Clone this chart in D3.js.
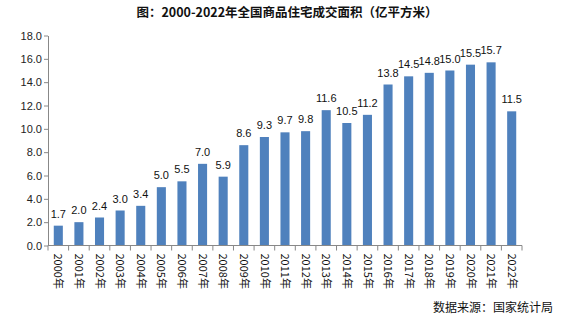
<!DOCTYPE html>
<html><head><meta charset="utf-8">
<script src="https://cdn.jsdelivr.net/npm/d3@7"></script>
<style>body{margin:0;background:#fff}svg{display:block}</style>
</head><body><svg id="c" width="571" height="321"></svg>
<script>
const years = ["2000年","2001年","2002年","2003年","2004年","2005年","2006年","2007年","2008年","2009年","2010年","2011年","2012年","2013年","2014年","2015年","2016年","2017年","2018年","2019年","2020年","2021年","2022年"];
const values = [1.7,2.0,2.4,3.0,3.4,5.0,5.5,7.0,5.9,8.6,9.3,9.7,9.8,11.6,10.5,11.2,13.8,14.5,14.8,15.0,15.5,15.7,11.5];
const yTicks = [0,2,4,6,8,10,12,14,16,18];
const title = "图：2000-2022年全国商品住宅成交面积（亿平方米）";
const source = "数据来源：国家统计局";

const svg = d3.select("#c");
const font = "'Noto Sans CJK SC', 'Liberation Sans', sans-serif";
const x = d3.scaleBand().domain(years).range([48, 522]).paddingInner(0.56).paddingOuter(0.28);
const xb = d3.scaleBand().domain(years).range([48, 522]);
const y = d3.scaleLinear().domain([0, 18]).range([245.5, 35.5]);

svg.append("text").attr("x", 287).attr("y", 17).attr("text-anchor", "middle")
  .attr("font-family", font).attr("font-weight", "bold").attr("font-size", 12.5).attr("fill", "#111").text(title);

const ya = svg.append("g").attr("transform", "translate(48,0)")
  .call(d3.axisLeft(y).tickValues(yTicks).tickFormat(d3.format(".1f")).tickSize(4).tickSizeOuter(0));
ya.select(".domain").attr("stroke", "#888");
ya.selectAll(".tick line").attr("stroke", "#888");
ya.selectAll("text").attr("font-family", "'Liberation Sans', sans-serif").attr("font-size", 11).attr("fill", "#222").attr("x", -6);

svg.append("g").selectAll("rect").data(values).join("rect")
  .attr("x", (d, i) => x(years[i])).attr("width", x.bandwidth())
  .attr("y", d => y(d)).attr("height", d => y(0) - y(d)).attr("fill", "#4F81BD");

svg.append("g").selectAll("text").data(values).join("text")
  .attr("x", (d, i) => x(years[i]) + x.bandwidth() / 2).attr("y", d => y(d) - 8)
  .attr("text-anchor", "middle").attr("font-family", "'Liberation Sans', sans-serif").attr("font-size", 11).attr("fill", "#111")
  .text(d => d3.format(".1f")(d));

const xa = svg.append("g").attr("transform", `translate(0,${y(0)})`);
xa.append("line").attr("x1", 48).attr("x2", 522).attr("y1", 0).attr("y2", 0).attr("stroke", "#888");
xa.selectAll("line.t").data(d3.range(years.length + 1)).join("line").attr("class", "t")
  .attr("x1", i => 48 + i * xb.step()).attr("x2", i => 48 + i * xb.step()).attr("y1", 0).attr("y2", 5).attr("stroke", "#888");
xa.selectAll("text").data(years).join("text")
  .attr("transform", d => `translate(${xb(d) + xb.bandwidth() / 2},8) rotate(90)`)
  .attr("dy", "0.35em").attr("font-family", font).attr("font-size", 11).attr("fill", "#111").text(d => d);

svg.append("text").attr("x", 553).attr("y", 312).attr("text-anchor", "end")
  .attr("font-family", font).attr("font-size", 12).attr("fill", "#111").text(source);
</script></body></html>
